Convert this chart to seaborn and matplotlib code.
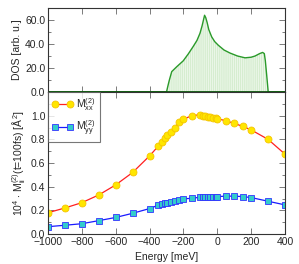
import matplotlib

matplotlib.use("Agg")

import matplotlib.pyplot as plt
import seaborn as sns
from matplotlib.ticker import MultipleLocator, FixedLocator, FormatStrFormatter

# DOS curve
dos_energy = [-1000, -300, -290, -283, -269, -240, -201, -170, -142, -120, -102, -90,
              -75, -68, -60, -50, -33, -15, 6, 40, 75, 120, 164, 200, 223, 250, 268,
              278, 284, 292, 301, 400]
dos_value = [0, 0, 6, 10, 17, 21, 26, 32, 38, 43, 49, 55,
             64, 62, 58, 52, 46, 42, 39, 35, 32.5, 30, 28.5, 29, 30, 32, 33,
             32, 26, 14, 0, 0]

# second moments
energy = [-1000, -900, -800, -700, -600, -500, -400, -350, -325, -310, -295, -275,
          -250, -225, -200, -150, -100, -85, -70, -55, -40, -25, -10, 0,
          50, 100, 150, 200, 300, 400]
mxx = [0.18, 0.22, 0.265, 0.33, 0.415, 0.52, 0.66, 0.74, 0.78, 0.81, 0.836, 0.86,
       0.90, 0.945, 0.97, 1.0, 1.008, 1.0, 0.995, 0.99, 0.985, 0.98, 0.977, 0.975,
       0.957, 0.935, 0.91, 0.88, 0.80, 0.675]
myy = [0.062, 0.074, 0.087, 0.113, 0.14, 0.175, 0.215, 0.243, 0.253, 0.26, 0.265, 0.273,
       0.282, 0.29, 0.297, 0.302, 0.311, 0.312, 0.313, 0.314, 0.315, 0.315, 0.315, 0.316,
       0.32, 0.32, 0.316, 0.308, 0.277, 0.246]

sns.set_theme(style="ticks")
plt.rcParams["font.family"] = ["Liberation Sans", "DejaVu Sans"]
plt.rcParams["font.size"] = 7.5
plt.rcParams["mathtext.fontset"] = "custom"
plt.rcParams["mathtext.rm"] = "Liberation Sans"
plt.rcParams["mathtext.it"] = "Liberation Sans"
plt.rcParams["hatch.linewidth"] = 1.0

fig = plt.figure(figsize=(2.99, 2.64), dpi=100)
ax1 = fig.add_axes([0.1605, 0.6515, 0.7926, 0.318])
ax2 = fig.add_axes([0.1605, 0.1136, 0.7926, 0.5379])

# top: DOS
ax1.fill_between(dos_energy, dos_value, facecolor="#f4fbf2", edgecolor="#d6edd0",
                 hatch="||||||||", linewidth=0)
sns.lineplot(x=dos_energy, y=dos_value, color="#2a9a2a", lw=1.0, ax=ax1)
ax1.axhline(0, color="#0b5a0b", lw=1.3)
ax1.set_xlim(-1000, 400)
ax1.set_ylim(0, 70)
ax1.set_ylabel("DOS [arb. u.]", fontsize=7.5, labelpad=2)
ax1.yaxis.set_major_locator(MultipleLocator(20))
ax1.yaxis.set_minor_locator(MultipleLocator(10))
ax1.yaxis.set_major_formatter(FormatStrFormatter("%.1f"))
ax1.xaxis.set_major_locator(MultipleLocator(200))
ax1.tick_params(labelbottom=False)

# bottom: moments
sns.lineplot(x=energy, y=mxx, color="#ff2020", lw=0.9, marker="o", markersize=5,
             markerfacecolor="#ffe600", markeredgecolor="#f5c400", markeredgewidth=0.6,
             label=r"M$_{xx}^{(2)}$", ax=ax2)
sns.lineplot(x=energy, y=myy, color="#1a1aff", lw=0.9, marker="s", markersize=4,
             markerfacecolor="#33cccc", markeredgecolor="#3333ff", markeredgewidth=0.6,
             label=r"M$_{yy}^{(2)}$", ax=ax2)
ax2.set_xlim(-1000, 400)
ax2.set_ylim(0, 1.2)
ax2.xaxis.set_major_locator(MultipleLocator(200))
ax2.yaxis.set_major_locator(FixedLocator([0, 0.2, 0.4, 0.6, 0.8, 1.0]))
ax2.yaxis.set_minor_locator(MultipleLocator(0.1))
ax2.yaxis.set_major_formatter(FormatStrFormatter("%.1f"))
ax2.set_xlabel("Energy [meV]", fontsize=7.5, labelpad=4)
ax2.set_ylabel(r"10$^4$ $\cdot$ M$_{ii}^{(2)}$(t=100fs) [$\AA^2$]", fontsize=7.5, labelpad=2)
leg = ax2.legend(loc="upper left", borderaxespad=0, fancybox=False, frameon=True,
                 edgecolor="#555555", fontsize=7.5, numpoints=2, handlelength=2.0,
                 handletextpad=0.3, borderpad=0.4, labelspacing=0.5)
leg.get_frame().set_linewidth(0.8)

for ax in (ax1, ax2):
    ax.tick_params(which="both", direction="in", top=True, right=True,
                   labelsize=7.5, color="#666666", pad=2)
    ax.tick_params(which="major", length=4, width=0.6)
    ax.tick_params(which="minor", length=2.5, width=0.6)
    for s in ax.spines.values():
        s.set_color("#333333")
        s.set_linewidth(0.8)

fig.savefig("out.png", dpi=100)
